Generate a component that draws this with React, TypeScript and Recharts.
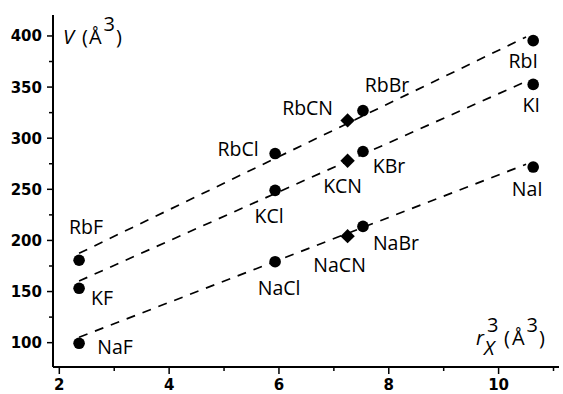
import React from 'react';
import { ScatterChart, Scatter, XAxis, YAxis } from 'recharts';

// anion order: F, Cl, Br, I, CN
const anions = ['F', 'Cl', 'Br', 'I', 'CN'];
const rx3 = [2.36, 5.93, 7.53, 10.63, 7.25];
const naV = [99.4, 179.2, 213.7, 271.8, 204.2];
const kV = [153.2, 249, 287, 352.6, 278];
const rbV = [180.6, 285, 327, 395.4, 317.4];

// dashed guide lines (end points)
const fitX = [2.36, 10.5];
const naFit = [105.3, 274.5];
const kFit = [160.3, 355.5];
const rbFit = [187.4, 399];

const xTicks = [2, 3, 4, 5, 6, 7, 8, 9, 10, 11];
const yTicks = [100, 125, 150, 175, 200, 225, 250, 275, 300, 325, 350, 375, 400];

const build = (cation: string, vals: number[], cn: boolean) =>
  anions
    .map((a, i) => ({ x: rx3[i], y: vals[i], name: cation + a }))
    .filter((d) => (d.name.endsWith('CN') ? cn : !cn));

const line = (ys: number[]) => fitX.map((x, i) => ({ x, y: ys[i] }));

// label placement relative to marker centre (dx, baseline dy)
const labelPos: Record<string, [number, number]> = {
  RbF: [7, -26], KF: [23, 17], NaF: [36, 11],
  RbCl: [-37, 2], KCl: [-6, 33], NaCl: [4, 33],
  RbBr: [24, -19], KBr: [26, 22], NaBr: [33, 24],
  RbI: [-10, 27], KI: [-2, 28], NaI: [-6, 29],
  RbCN: [-40, -5], KCN: [-5, 32], NaCN: [-8, 36],
};

const labelFont = { fontFamily: '"Open Sans", sans-serif', fontSize: 19.5, fill: '#000' };

const Label = ({ cx, cy, name }: any) => {
  const p = labelPos[name] || [0, 0];
  return (
    <text x={cx + p[0]} y={cy + p[1]} textAnchor="middle" {...labelFont}>
      {name}
    </text>
  );
};

const Dot = (props: any) => (
  <g>
    <circle cx={props.cx} cy={props.cy} r={5.8} fill="#000" />
    <Label cx={props.cx} cy={props.cy} name={props.payload.name} />
  </g>
);

const Diamond = (props: any) => {
  const { cx, cy } = props;
  const r = 7.2;
  return (
    <g>
      <polygon points={`${cx},${cy - r} ${cx + r},${cy} ${cx},${cy + r} ${cx - r},${cy}`} fill="#000" />
      <Label cx={cx} cy={cy} name={props.payload.name} />
    </g>
  );
};

const tickFont = { fontFamily: '"DejaVu Sans", sans-serif', fontSize: 15, fontWeight: 'bold' as const, fill: '#000' };

const XTick = ({ x, y, payload }: any) => {
  const major = payload.value % 2 === 0;
  return (
    <g>
      <line x1={x} x2={x} y1={y} y2={y + (major ? 7 : 4)} stroke="#000" strokeWidth={1.5} />
      {major && (
        <text x={x} y={y + 23} textAnchor="middle" {...tickFont}>
          {payload.value}
        </text>
      )}
    </g>
  );
};

const YTick = ({ x, y, payload }: any) => {
  const major = payload.value % 50 === 0;
  return (
    <g>
      <line x1={x - (major ? 6 : 4)} x2={x} y1={y} y2={y} stroke="#000" strokeWidth={1.5} />
      {major && (
        <text x={x - 11} y={y + 5.5} textAnchor="end" {...tickFont}>
          {payload.value}
        </text>
      )}
    </g>
  );
};

const dash = { stroke: '#000', strokeWidth: 1.7, strokeDasharray: '9 8' };
const noShape = () => <g />;

const titleFont = { fontFamily: '"Open Sans", sans-serif', fontSize: 20, fill: '#000' };

export default function App() {
  return (
    <div style={{ position: 'absolute', left: 0, top: 0, width: 563, height: 394, background: '#fff' }}>
      <ScatterChart width={563} height={394} margin={{ top: 15, right: 4, left: 0, bottom: 0 }}>
        <XAxis
          type="number"
          dataKey="x"
          domain={[1.885, 11.1]}
          ticks={xTicks}
          interval={0}
          allowDataOverflow
          height={27}
          tickSize={0}
          tickMargin={0}
          tickLine={false}
          tick={<XTick />}
          axisLine={{ stroke: '#000', strokeWidth: 2 }}
        />
        <YAxis
          type="number"
          dataKey="y"
          domain={[76.2, 420.5]}
          ticks={yTicks}
          interval={0}
          allowDataOverflow
          width={53}
          tickSize={0}
          tickMargin={0}
          tickLine={false}
          tick={<YTick />}
          axisLine={{ stroke: '#000', strokeWidth: 2 }}
        />
        <Scatter data={line(rbFit)} line={dash} shape={noShape} isAnimationActive={false} />
        <Scatter data={line(kFit)} line={dash} shape={noShape} isAnimationActive={false} />
        <Scatter data={line(naFit)} line={dash} shape={noShape} isAnimationActive={false} />
        <Scatter data={build('Rb', rbV, false)} shape={Dot} isAnimationActive={false} />
        <Scatter data={build('K', kV, false)} shape={Dot} isAnimationActive={false} />
        <Scatter data={build('Na', naV, false)} shape={Dot} isAnimationActive={false} />
        <Scatter data={build('Rb', rbV, true)} shape={Diamond} isAnimationActive={false} />
        <Scatter data={build('K', kV, true)} shape={Diamond} isAnimationActive={false} />
        <Scatter data={build('Na', naV, true)} shape={Diamond} isAnimationActive={false} />
      </ScatterChart>
      <svg width={563} height={394} style={{ position: 'absolute', left: 0, top: 0, pointerEvents: 'none' }}>
        <text x={63} y={43.5} {...titleFont}>
          <tspan fontStyle="italic">V</tspan>
          <tspan dx={8}>(</tspan>
          <tspan dx={1}>Å</tspan>
          <tspan dx={2} dy={-13}>3</tspan>
          <tspan dx={1} dy={13}>)</tspan>
        </text>
        <text x={476} y={345} {...titleFont} fontStyle="italic">r</text>
        <text x={484} y={355} {...titleFont} fontStyle="italic">X</text>
        <text x={487} y={332} {...titleFont}>3</text>
        <text x={504} y={345} {...titleFont}>
          <tspan>(</tspan>
          <tspan dx={2}>Å</tspan>
          <tspan dx={2} dy={-13}>3</tspan>
          <tspan dx={1} dy={13}>)</tspan>
        </text>
      </svg>
    </div>
  );
}
